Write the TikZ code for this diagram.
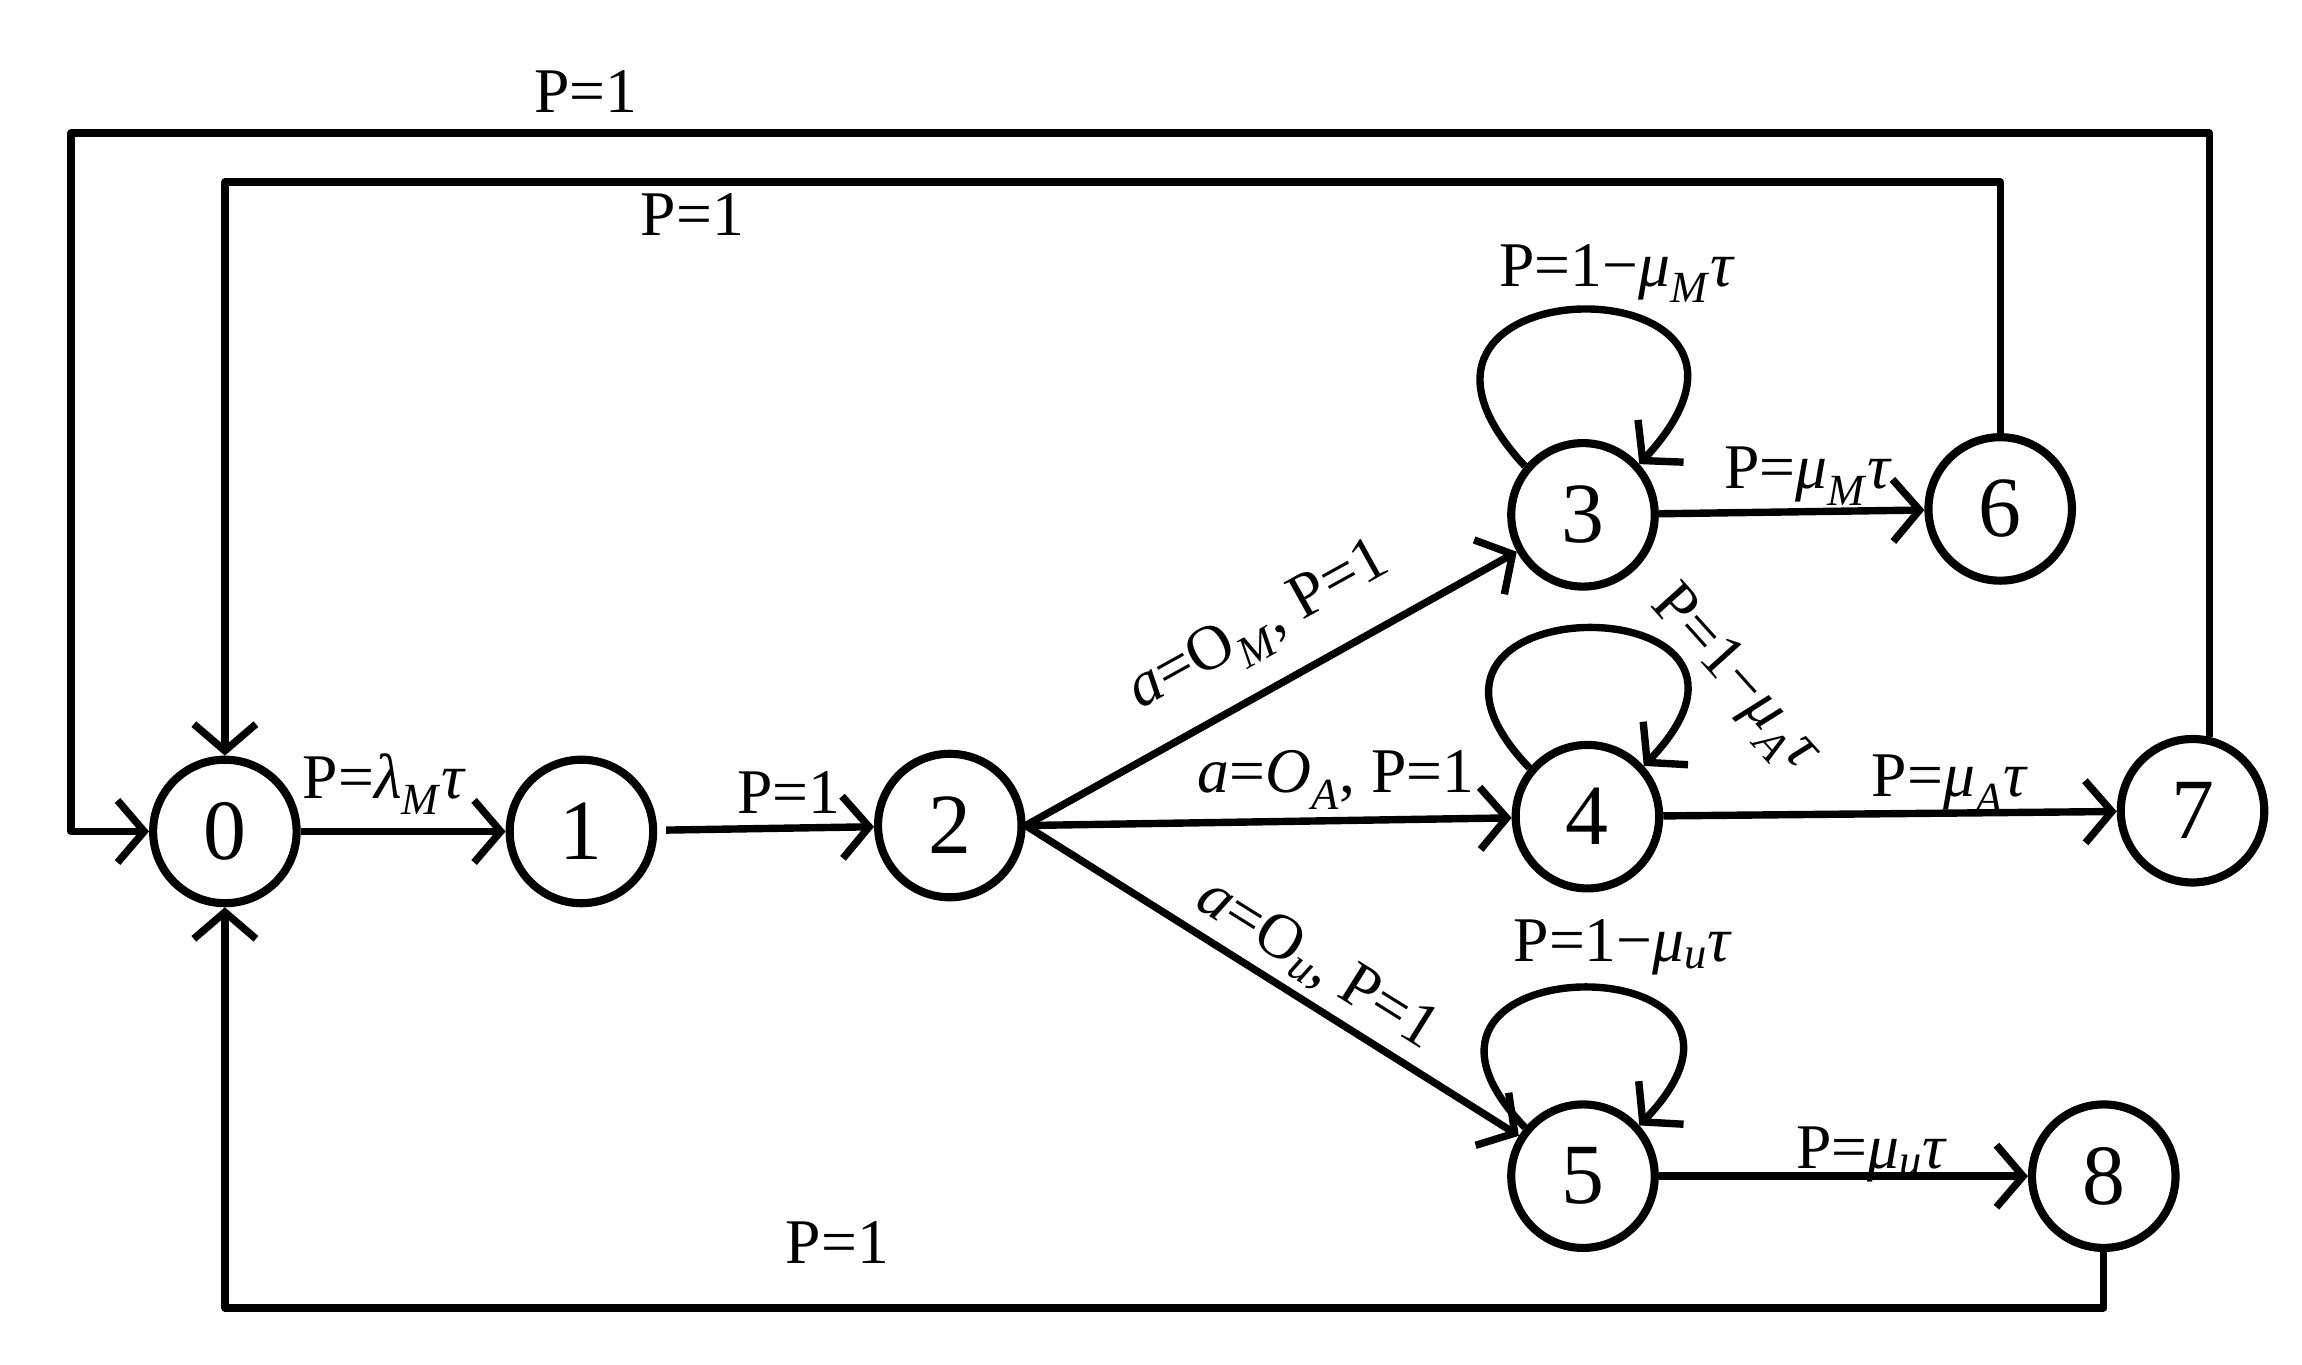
\documentclass[tikz,border=0pt]{standalone}
\usepackage{fontspec}
\setmainfont{Liberation Serif}
\usetikzlibrary{arrows.meta}
\newcommand\ivar[1]{\textit{#1}}
\newcommand\isub[1]{\textsubscript{\textit{#1}}}
\begin{document}
\begin{tikzpicture}[x=1pt,y=-1pt,
  st/.style={circle,draw,line width=5.5pt,minimum size=97pt,inner sep=0pt,font=\fontsize{58}{60}\selectfont},
  lbl/.style={font=\fontsize{43}{46}\selectfont,inner sep=0pt},
  arr/.style={line width=5pt,line join=round,-{Straight Barb[length=18pt,width=42pt]}}]
\useasboundingbox (0,0) rectangle (1556,922);
% states
\node[st] (n0) at (152,562) {0};
\node[st] (n1) at (393,562) {1};
\node[st] (n2) at (642,558) {2};
\node[st] (n3) at (1070,348) {3};
\node[st] (n4) at (1073,552) {4};
\node[st] (n5) at (1070,795) {5};
\node[st] (n6) at (1352,344) {6};
\node[st] (n7) at (1482,548) {7};
\node[st] (n8) at (1422,795) {8};
% forward transitions
\draw[arr] (n0) -- (n1);
\draw[arr,shorten <=6pt] (n1) -- (n2);
\draw[arr] (n2.east) -- (n3);
\draw[arr] (n2.east) -- (n4);
\draw[arr] (n2.east) -- (n5);
\draw[arr] (n3) -- (n6);
\draw[arr] (n4) -- (n7);
\draw[arr] (n5) -- (n8);
% self loops
\draw[arr] (n3.140) .. controls +(-130,-140) and +(130,-140) .. (n3.42);
\draw[arr] (n4.140) .. controls +(-120,-125) and +(120,-125) .. (n4.42);
\draw[arr] (n5.140) .. controls +(-120,-125) and +(120,-125) .. (n5.42);
% returns to 0
\coordinate (t7) at (48,90);
\coordinate (t6) at (152,123);
\coordinate (b8) at (152,884);
\draw[arr] (n7.77) |- (t7) |- (n0.west);
\draw[arr] (n6.north) |- (t6) -- (n0.north);
\draw[arr] (n8.south) |- (b8) -- (n0.south);
% labels
\node[lbl] (l70) at (396,62) {P=1};
\node[lbl] (l60) at (468,145) {P=1};
\node[lbl] (l80) at (566,840) {P=1};
\node[lbl] (l01) at (260,530) {P=\ivar{λ}\isub{M}\ivar{τ}};
\node[lbl] (l12) at (533,536) {P=1};
\node[lbl,rotate=29] (l23) at (852,425) {\ivar{a}=O\isub{M}, P=1};
\node[lbl] (l24) at (903,527) {\ivar{a}=\ivar{O}\isub{A}, P=1};
\node[lbl,rotate=-32] (l25) at (890,652) {\ivar{a}=O\isub{u}, P=1};
\node[lbl] (l33) at (1093,185) {P=1−\ivar{μ}\isub{M}\ivar{τ}};
\node[lbl] (l36) at (1222,322) {P=\ivar{μ}\isub{M}\ivar{τ}};
\node[lbl,rotate=-48] (l44) at (1172,460) {P=1−\ivar{μ}\isub{A}\ivar{τ}};
\node[lbl] (l47) at (1318,530) {P=\ivar{μ}\isub{A}\ivar{τ}};
\node[lbl] (l55) at (1097,640) {P=1−\ivar{μ}\isub{u}\ivar{τ}};
\node[lbl] (l58) at (1265,780) {P=\ivar{μ}\isub{u}\ivar{τ}};
\end{tikzpicture}
\end{document}
